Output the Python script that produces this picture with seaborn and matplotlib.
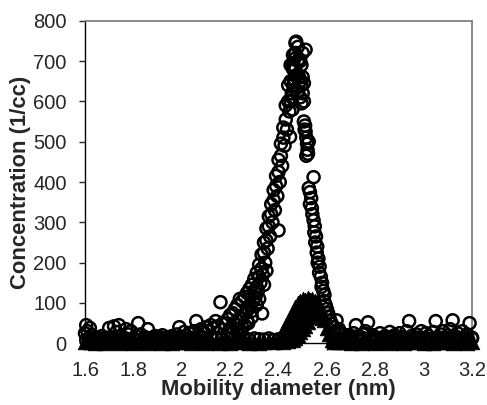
import matplotlib
matplotlib.use("Agg")
import matplotlib.pyplot as plt
import pandas as pd
import seaborn as sns

# ---- open circles: measured concentration ----
# baseline, left of the peak (two scans)
base_left_x = [1.600, 1.605, 1.610, 1.615, 1.620, 1.625, 1.630, 1.640, 1.650, 1.660,
               1.670, 1.680, 1.690, 1.700, 1.710, 1.720, 1.730, 1.740, 1.750, 1.760,
               1.770, 1.780, 1.790, 1.800, 1.810, 1.820, 1.830, 1.840, 1.850, 1.860,
               1.870, 1.880, 1.890, 1.900, 1.910, 1.920, 1.930, 1.940, 1.950, 1.960,
               1.970, 1.980, 1.990, 2.000, 2.010, 2.020, 2.030, 2.040, 2.050, 2.060,
               2.070, 2.080, 2.090, 2.100, 2.110, 2.120, 2.130, 2.140, 2.150, 2.160,
               2.170, 2.180, 2.190]
base_left_y = [25, 45, 30, 12, 38, 8, 20, 10, 15, 5,
               18, 8, 12, 38, 15, 42, 28, 45, 18, 12,
               35, 22, 30, 10, 18, 50, 22, 8, 15, 35,
               10, 12, 18, 8, 15, 20, 10, 14, 8, 18,
               12, 22, 40, 15, 28, 18, 25, 12, 30, 55,
               22, 35, 28, 40, 30, 45, 38, 55, 42, 102,
               50, 48, 60]
base_low_x = [1.605, 1.625, 1.645, 1.665, 1.685, 1.705, 1.725, 1.745, 1.765, 1.785,
              1.805, 1.825, 1.845, 1.865, 1.885, 1.905, 1.925, 1.945, 1.965, 1.985,
              2.005, 2.025, 2.045, 2.065, 2.085, 2.105, 2.125, 2.145, 2.165, 2.185,
              2.20, 2.22, 2.24, 2.26, 2.28, 2.30, 2.32, 2.34, 2.36, 2.38,
              2.40, 2.42, 2.44, 2.46]
base_low_y = [8, 12, 6, 10, 14, 7, 11, 9, 13, 6,
              10, 8, 12, 7, 15, 9, 6, 11, 8, 13,
              10, 7, 12, 9, 14, 8, 11, 13, 10, 15,
              12, 15, 10, 14, 8, 12, 10, 9, 12, 8,
              10, 12, 9, 11]
# rising edge, four overlapping scans
rise_a_x = [2.20, 2.21, 2.22, 2.23, 2.24, 2.25, 2.26, 2.27, 2.28, 2.29,
            2.30, 2.31, 2.32, 2.33, 2.34, 2.35, 2.36, 2.37, 2.38, 2.39,
            2.40, 2.41, 2.42, 2.43, 2.44, 2.45, 2.46, 2.47]
rise_a_y = [70, 75, 85, 95, 110, 105, 115, 125, 135, 145,
            160, 175, 195, 220, 250, 285, 315, 345, 380, 415,
            455, 495, 535, 590, 640, 690, 715, 745]
rise_b_x = [2.205, 2.215, 2.225, 2.235, 2.245, 2.255, 2.265, 2.275, 2.285, 2.295,
            2.305, 2.315, 2.325, 2.332, 2.335, 2.345, 2.355, 2.365, 2.375, 2.385,
            2.395, 2.400, 2.405, 2.415, 2.425, 2.435, 2.445, 2.448, 2.455, 2.465]
rise_b_y = [40, 50, 45, 55, 60, 70, 75, 85, 95, 105,
            115, 130, 150, 74, 170, 200, 235, 265, 300, 330,
            365, 280, 400, 440, 490, 530, 575, 512, 610, 650]
rise_c_x = [2.23, 2.25, 2.27, 2.29, 2.30, 2.31, 2.32, 2.33, 2.34, 2.35,
            2.36, 2.37, 2.38, 2.39, 2.40, 2.41, 2.42, 2.43, 2.44, 2.45,
            2.46]
rise_c_y = [30, 40, 55, 80, 130, 140, 165, 185, 225, 255,
            290, 320, 355, 390, 425, 465, 510, 555, 600, 650,
            680]
rise_d_x = [2.21, 2.23, 2.245, 2.26, 2.275, 2.29, 2.31, 2.32, 2.34, 2.35]
rise_d_y = [25, 35, 30, 45, 50, 65, 95, 110, 145, 180]
# top of the peak
peak_x = [2.473, 2.480, 2.470, 2.465, 2.460, 2.485, 2.490, 2.495, 2.480, 2.470,
          2.475, 2.485, 2.490, 2.495, 2.500, 2.505, 2.465, 2.460, 2.470, 2.480,
          2.490, 2.500, 2.505, 2.495, 2.455, 2.450, 2.458, 2.512, 2.500]
peak_y = [748, 735, 720, 705, 690, 705, 700, 690, 700, 680,
          665, 660, 650, 640, 660, 645, 655, 640, 630, 625,
          610, 620, 600, 595, 620, 600, 580, 728, 720]
# falling edge
fall_x = [2.505, 2.510, 2.512, 2.515, 2.508, 2.518, 2.520, 2.522, 2.515, 2.525,
          2.545, 2.525, 2.530, 2.535, 2.530, 2.538, 2.540, 2.545, 2.550, 2.548,
          2.555, 2.552, 2.560, 2.558, 2.565, 2.562, 2.570, 2.568, 2.575, 2.580,
          2.578, 2.585, 2.590, 2.588, 2.595, 2.600, 2.605, 2.610, 2.615, 2.620,
          2.630, 2.640, 2.645, 2.650, 2.660, 2.670, 2.680, 2.690]
fall_y = [550, 540, 525, 510, 530, 495, 480, 470, 465, 500,
          412, 385, 375, 360, 345, 335, 320, 305, 290, 275,
          265, 250, 240, 225, 210, 200, 190, 175, 165, 150,
          140, 130, 120, 105, 95, 85, 75, 65, 55, 48,
          40, 57, 30, 35, 25, 20, 15, 20]
# baseline, right of the peak (two scans)
tail_x = [2.70, 2.71, 2.72, 2.73, 2.74, 2.75, 2.76, 2.77, 2.78, 2.79,
          2.80, 2.81, 2.82, 2.83, 2.84, 2.85, 2.86, 2.87, 2.88, 2.89,
          2.90, 2.91, 2.92, 2.93, 2.94, 2.95, 2.96, 2.97, 2.98, 2.99,
          3.00, 3.01, 3.02, 3.03, 3.04, 3.05, 3.06, 3.07, 3.08, 3.09,
          3.10, 3.11, 3.12, 3.13, 3.14, 3.15, 3.16, 3.17, 3.18, 3.19,
          3.20]
tail_y = [15, 25, 45, 18, 10, 22, 30, 52, 12, 20,
          15, 8, 25, 12, 18, 10, 28, 14, 20, 8,
          25, 15, 12, 30, 55, 18, 10, 22, 14, 30,
          12, 25, 18, 10, 28, 55, 15, 22, 30, 12,
          20, 35, 57, 18, 25, 10, 30, 15, 22, 50,
          12]
tail_low_x = [2.625, 2.645, 2.665, 2.685, 2.705, 2.725, 2.745, 2.765, 2.785, 2.805,
              2.825, 2.845, 2.865, 2.885, 2.905, 2.925, 2.945, 2.965, 2.985, 3.005,
              3.025, 3.045, 3.065, 3.085, 3.105, 3.125, 3.145, 3.165, 3.185, 3.200]
tail_low_y = [10, 8, 12, 6, 11, 9, 14, 7, 10, 12,
              8, 13, 6, 10, 9, 12, 7, 11, 14, 8,
              10, 6, 12, 9, 13, 7, 11, 10, 8, 14]

# ---- filled triangles: second series ----
tri_left_x = [1.60, 1.62, 1.64, 1.66, 1.68, 1.70, 1.72, 1.74, 1.76, 1.78,
              1.80, 1.82, 1.84, 1.86, 1.88, 1.90, 1.92, 1.94, 1.96, 1.98,
              2.00, 2.02, 2.04, 2.06, 2.08, 2.10, 2.12, 2.14, 2.16, 2.18,
              2.20, 2.22, 2.24, 2.26, 2.28, 2.30, 2.32, 2.34, 2.36, 2.38,
              2.40, 2.42, 2.44, 2.46]
tri_left_y = [2, 4, 1, 3, 0, 5, 2, 1, 3, 4,
              0, 2, 5, 1, 3, 2, 0, 4, 1, 3,
              2, 5, 0, 2, 3, 1, 4, 2, 0, 3,
              1, 5, 2, 3, 0, 4, 1, 2, 6, 3,
              5, 3, 5, 8]
tri_peak_x = [2.41, 2.42, 2.43, 2.44, 2.45, 2.46, 2.47, 2.48, 2.49, 2.50,
              2.51, 2.52, 2.53, 2.54, 2.55, 2.56, 2.57, 2.58, 2.59, 2.60,
              2.61, 2.62, 2.63]
tri_peak_y = [15, 30, 45, 55, 65, 78, 90, 100, 105, 110,
              108, 112, 108, 110, 105, 100, 90, 75, 58, 38,
              22, 8, 3]
tri_fill_x = [2.44, 2.45, 2.46, 2.47, 2.48, 2.49, 2.50, 2.51, 2.52, 2.53,
              2.54, 2.55, 2.56, 2.57, 2.58]
tri_fill_y = [30, 40, 50, 60, 70, 76, 82, 86, 90, 92,
              95, 88, 82, 72, 62]
tri_mid_x = [2.42, 2.43, 2.44, 2.45, 2.46, 2.47, 2.48, 2.49, 2.50, 2.51,
             2.52, 2.53, 2.54]
tri_mid_y = [12, 20, 15, 20, 25, 38, 44, 54, 60, 66,
             74, 80, 84]
tri_step_x = [2.47, 2.48, 2.49, 2.50, 2.51, 2.52, 2.53, 2.54, 2.55]
tri_step_y = [12, 20, 28, 36, 44, 54, 66, 80, 92]
tri_right_x = [2.64, 2.66, 2.68, 2.70, 2.72, 2.74, 2.76, 2.78, 2.80, 2.82,
               2.84, 2.86, 2.88, 2.90, 2.92, 2.94, 2.96, 2.98, 3.00, 3.02,
               3.04, 3.06, 3.08, 3.10, 3.12, 3.14, 3.16, 3.18, 3.20]
tri_right_y = [3, 2, 4, 1, 3, 0, 2, 5, 1, 3,
               2, 0, 4, 2, 1, 3, 5, 2, 0, 3,
               1, 4, 2, 3, 0, 2, 4, 1, 3]

circles = pd.DataFrame({
    "diameter": (base_left_x + base_low_x + rise_a_x + rise_b_x + rise_c_x + rise_d_x
                 + peak_x + fall_x + tail_x + tail_low_x),
    "conc": (base_left_y + base_low_y + rise_a_y + rise_b_y + rise_c_y + rise_d_y
             + peak_y + fall_y + tail_y + tail_low_y),
})
triangles = pd.DataFrame({
    "diameter": tri_left_x + tri_peak_x + tri_fill_x + tri_mid_x + tri_step_x + tri_right_x,
    "conc": tri_left_y + tri_peak_y + tri_fill_y + tri_mid_y + tri_step_y + tri_right_y,
})

sns.set_style("ticks")
plt.rcParams["font.family"] = ["Liberation Sans", "DejaVu Sans"]

fig = plt.figure(figsize=(4.87, 4.05), dpi=100)
# axes box: x 85..472 px, y 20.7..343.3 px
ax = fig.add_axes([85 / 487, (405 - 343.3) / 405, 387 / 487, 322.6 / 405])

sns.scatterplot(data=triangles, x="diameter", y="conc", marker="^", color="black",
                edgecolor="black", s=110, linewidth=0.6, clip_on=False, zorder=3, ax=ax)
sns.scatterplot(data=circles, x="diameter", y="conc", marker="o", facecolor="none",
                edgecolor="black", s=75, linewidth=1.8, clip_on=False, zorder=4, ax=ax)

ax.set_xlim(1.6, 3.2)
ax.set_ylim(0, 800)
ax.set_xticks([1.6, 1.8, 2.0, 2.2, 2.4, 2.6, 2.8, 3.0, 3.2])
ax.set_xticklabels(["1.6", "1.8", "2", "2.2", "2.4", "2.6", "2.8", "3", "3.2"])
ax.set_yticks(range(0, 801, 100))

for side in ["top", "right"]:
    ax.spines[side].set_color("#808080")
    ax.spines[side].set_linewidth(1.3)
for side in ["left", "bottom"]:
    ax.spines[side].set_color("black")
    ax.spines[side].set_linewidth(1.0)

ax.tick_params(axis="x", direction="out", length=5, width=1, pad=7.5, labelsize=14.5)
ax.tick_params(axis="y", direction="out", length=4.3, width=1, pad=9.0, labelsize=14.5)

ax.set_xlabel("Mobility diameter (nm)", fontsize=15.8, fontweight="bold")
ax.set_ylabel("Concentration (1/cc)", fontsize=15.8, fontweight="bold")
ax.xaxis.set_label_coords(0.5, -0.112)
ax.yaxis.set_label_coords(-0.14, 0.5)

fig.savefig("out.png", dpi=100)
